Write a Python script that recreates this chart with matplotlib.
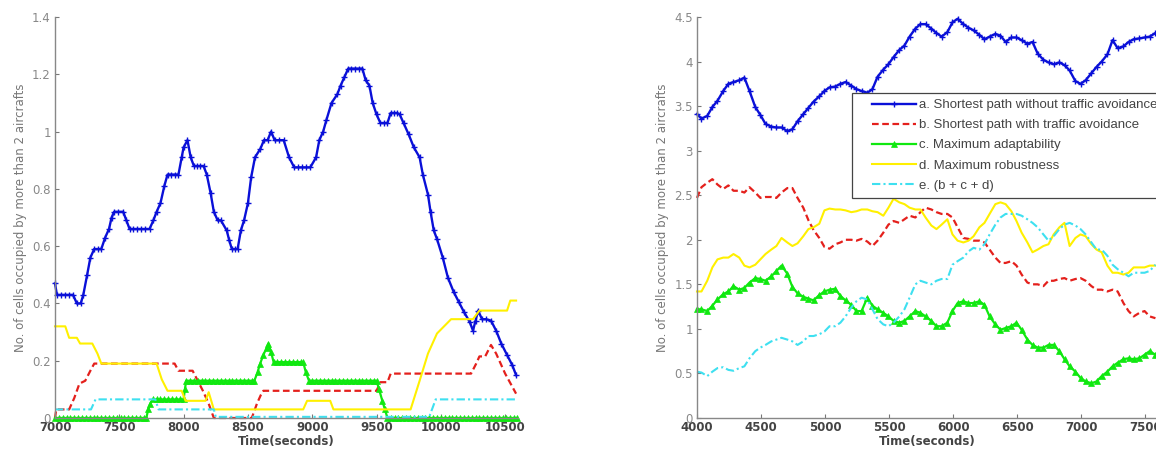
import matplotlib
matplotlib.use("Agg")
import matplotlib.pyplot as plt
from matplotlib.legend_handler import HandlerLine2D

# ---------------- data: left panel (7000 - 10600 s) ----------------
t_a_left = [7000, 7015, 7045, 7075, 7105, 7140, 7170, 7200, 7220, 7250, 7275, 7305, 7335, 7360,
            7390, 7420, 7440, 7460, 7490, 7530, 7555, 7580, 7610, 7640, 7670, 7700, 7735, 7765,
            7790, 7820, 7850, 7875, 7905, 7935, 7960, 7985, 8000, 8030, 8055, 8080, 8105, 8130,
            8155, 8180, 8210, 8235, 8265, 8290, 8335, 8355, 8375, 8400, 8420, 8445, 8470, 8500,
            8525, 8555, 8597, 8625, 8653, 8680, 8708, 8740, 8778, 8820, 8860, 8890, 8920, 8950,
            8985, 9030, 9055, 9085, 9110, 9150, 9195, 9220, 9250, 9280, 9305, 9330, 9360, 9390,
            9415, 9445, 9470, 9500, 9530, 9555, 9585, 9610, 9635, 9660, 9680, 9710, 9750, 9790,
            9835, 9860, 9900, 9920, 9945, 9970, 10015, 10055, 10100, 10140, 10180, 10225, 10250,
            10270, 10290, 10320, 10350, 10390, 10430, 10470, 10515, 10555, 10585]
v_a_left = [0.47, 0.43, 0.43, 0.43, 0.43, 0.43, 0.40, 0.40, 0.43, 0.50, 0.56, 0.59, 0.59, 0.59,
            0.63, 0.66, 0.70, 0.72, 0.72, 0.72, 0.69, 0.66, 0.66, 0.66, 0.66, 0.66, 0.66, 0.69,
            0.72, 0.75, 0.81, 0.85, 0.85, 0.85, 0.85, 0.91, 0.945, 0.97, 0.91, 0.88, 0.88, 0.88,
            0.88, 0.85, 0.785, 0.72, 0.69, 0.69, 0.655, 0.62, 0.59, 0.59, 0.59, 0.655, 0.69, 0.75,
            0.84, 0.91, 0.94, 0.97, 0.97, 1.0, 0.97, 0.97, 0.97, 0.91, 0.875, 0.875, 0.875, 0.875,
            0.875, 0.91, 0.97, 1.0, 1.04, 1.10, 1.13, 1.16, 1.19, 1.22, 1.22, 1.22, 1.22, 1.22,
            1.18, 1.16, 1.10, 1.06, 1.03, 1.03, 1.03, 1.065, 1.065, 1.065, 1.06, 1.03, 0.99, 0.945,
            0.91, 0.85, 0.78, 0.72, 0.655, 0.625, 0.56, 0.49, 0.44, 0.405, 0.37, 0.335, 0.305,
            0.34, 0.375, 0.345, 0.345, 0.34, 0.305, 0.26, 0.22, 0.185, 0.15]

t_b_left = [7000, 7010, 7110, 7150, 7190, 7235, 7275, 7305, 7930, 7960, 8070, 8110, 8150, 8195,
            8235, 8530, 8570, 8600, 8620, 9500, 9530, 9585, 9610, 10235, 10275, 10300, 10345,
            10390, 10430, 10500, 10585]
v_b_left = [0.0, 0.03, 0.03, 0.07, 0.12, 0.13, 0.165, 0.19, 0.19, 0.165, 0.165, 0.13, 0.095, 0.05,
            0.0, 0.0, 0.05, 0.08, 0.095, 0.095, 0.125, 0.125, 0.155, 0.155, 0.19, 0.215, 0.215,
            0.255, 0.225, 0.155, 0.085]

t_c_left = [7000, 7030, 7060, 7090, 7120, 7150, 7180, 7210, 7240, 7270, 7300, 7330, 7360, 7390,
            7420, 7450, 7480, 7510, 7540, 7570, 7600, 7630, 7660, 7690, 7710, 7725, 7740, 7760,
            7790, 7820, 7850, 7880, 7910, 7940, 7970, 8000, 8010, 8020, 8050, 8080, 8110, 8140,
            8170, 8200, 8230, 8260, 8290, 8320, 8350, 8380, 8410, 8440, 8470, 8500, 8530, 8550,
            8575, 8595, 8620, 8645, 8660, 8680, 8700, 8730, 8760, 8790, 8820, 8850, 8880, 8910,
            8930, 8950, 8975, 9000, 9030, 9060, 9090, 9120, 9150, 9180, 9210, 9240, 9270, 9300,
            9330, 9360, 9390, 9420, 9450, 9480, 9500, 9520, 9545, 9565, 9585, 9610, 9640, 9670,
            9700, 9730, 9760, 9790, 9820, 9850, 9880, 9910, 9940, 9970, 10000, 10030, 10060,
            10090, 10120, 10150, 10180, 10210, 10240, 10270, 10300, 10330, 10360, 10390, 10420,
            10450, 10480, 10510, 10540, 10570, 10590]
v_c_left = [0, 0, 0, 0, 0, 0, 0, 0, 0, 0, 0, 0, 0, 0,
            0, 0, 0, 0, 0, 0, 0, 0, 0, 0, 0, 0.03, 0.05, 0.065,
            0.065, 0.065, 0.065, 0.065, 0.065, 0.065, 0.065, 0.065, 0.10, 0.13, 0.13, 0.13, 0.13, 0.13,
            0.13, 0.13, 0.13, 0.13, 0.13, 0.13, 0.13, 0.13, 0.13, 0.13, 0.13, 0.13, 0.13, 0.13,
            0.16, 0.19, 0.22, 0.245, 0.26, 0.23, 0.195, 0.195, 0.195, 0.195, 0.195, 0.195, 0.195, 0.195,
            0.195, 0.16, 0.13, 0.13, 0.13, 0.13, 0.13, 0.13, 0.13, 0.13, 0.13, 0.13, 0.13, 0.13,
            0.13, 0.13, 0.13, 0.13, 0.13, 0.13, 0.13, 0.10, 0.06, 0.03, 0, 0, 0, 0,
            0, 0, 0, 0, 0, 0, 0, 0, 0, 0, 0, 0, 0,
            0, 0, 0, 0, 0, 0, 0, 0, 0, 0, 0, 0,
            0, 0, 0, 0, 0, 0]

t_d_left = [7000, 7080, 7110, 7170, 7195, 7290, 7330, 7360, 7790, 7830, 7875, 7985, 8015, 8170,
            8195, 8235, 8930, 8960, 9140, 9165, 9765, 9835, 9900, 9970, 10080, 10250, 10300,
            10515, 10540, 10585]
v_d_left = [0.32, 0.32, 0.28, 0.28, 0.26, 0.26, 0.225, 0.19, 0.19, 0.135, 0.095, 0.095, 0.06, 0.06,
            0.09, 0.03, 0.03, 0.06, 0.06, 0.03, 0.03, 0.13, 0.225, 0.295, 0.345, 0.345, 0.375,
            0.375, 0.41, 0.41]

t_e_left = [7000, 7280, 7315, 7780, 7805, 8235, 8250, 9910, 9960, 10585]
v_e_left = [0.03, 0.03, 0.065, 0.065, 0.03, 0.03, 0.004, 0.004, 0.065, 0.065]

# ---------------- data: right panel (4000 - 7600 s) ----------------
t_right = [4000, 4035, 4080, 4120, 4160, 4205, 4245, 4285, 4330, 4370, 4410, 4455, 4495, 4535,
           4580, 4620, 4660, 4705, 4745, 4785, 4830, 4870, 4910, 4955, 4995, 5035, 5080, 5120,
           5160, 5205, 5245, 5285, 5330, 5370, 5410, 5455, 5495, 5535, 5580, 5620, 5660, 5705,
           5745, 5785, 5830, 5870, 5910, 5955, 5995, 6035, 6080, 6120, 6160, 6205, 6245, 6285,
           6330, 6370, 6410, 6455, 6495, 6535, 6580, 6620, 6660, 6705, 6745, 6785, 6830, 6870,
           6910, 6955, 6995, 7035, 7080, 7120, 7160, 7205, 7245, 7285, 7330, 7370, 7410, 7455,
           7495, 7535, 7580]
v_a_right = [3.41, 3.36, 3.39, 3.49, 3.56, 3.67, 3.75, 3.77, 3.79, 3.82, 3.67, 3.49, 3.40, 3.30,
             3.27, 3.26, 3.26, 3.22, 3.24, 3.33, 3.41, 3.48, 3.55, 3.61, 3.67, 3.71, 3.72, 3.75,
             3.77, 3.73, 3.69, 3.67, 3.65, 3.69, 3.83, 3.91, 3.97, 4.05, 4.13, 4.18, 4.28, 4.37,
             4.42, 4.42, 4.37, 4.32, 4.28, 4.33, 4.44, 4.48, 4.42, 4.38, 4.35, 4.30, 4.25, 4.28,
             4.31, 4.29, 4.22, 4.27, 4.27, 4.24, 4.20, 4.22, 4.09, 4.02, 3.99, 3.97, 3.99, 3.96,
             3.90, 3.78, 3.75, 3.79, 3.87, 3.94, 4.00, 4.08, 4.24, 4.15, 4.17, 4.22, 4.25, 4.26,
             4.27, 4.28, 4.32]
v_b_right = [2.47, 2.59, 2.64, 2.68, 2.62, 2.57, 2.61, 2.55, 2.55, 2.53, 2.59, 2.53, 2.47, 2.48,
             2.48, 2.47, 2.53, 2.58, 2.58, 2.47, 2.36, 2.22, 2.11, 2.02, 1.92, 1.90, 1.95, 1.97,
             2.00, 2.00, 1.99, 2.01, 1.98, 1.93, 1.99, 2.08, 2.17, 2.21, 2.19, 2.23, 2.27, 2.25,
             2.31, 2.36, 2.34, 2.31, 2.29, 2.29, 2.25, 2.14, 2.02, 2.01, 1.99, 1.99, 1.97, 1.89,
             1.80, 1.74, 1.74, 1.76, 1.71, 1.61, 1.52, 1.50, 1.50, 1.48, 1.54, 1.54, 1.56, 1.57,
             1.54, 1.56, 1.57, 1.54, 1.48, 1.44, 1.44, 1.42, 1.44, 1.42, 1.29, 1.20, 1.14, 1.18,
             1.20, 1.14, 1.12]
v_c_right = [1.22, 1.22, 1.20, 1.26, 1.33, 1.39, 1.42, 1.48, 1.44, 1.46, 1.52, 1.57, 1.56, 1.54,
             1.59, 1.65, 1.71, 1.62, 1.47, 1.40, 1.36, 1.34, 1.32, 1.38, 1.42, 1.44, 1.45, 1.37,
             1.32, 1.27, 1.20, 1.20, 1.35, 1.26, 1.22, 1.18, 1.14, 1.09, 1.07, 1.09, 1.14, 1.20,
             1.18, 1.14, 1.09, 1.03, 1.03, 1.07, 1.20, 1.29, 1.31, 1.29, 1.29, 1.31, 1.27, 1.14,
             1.05, 0.99, 1.01, 1.03, 1.07, 0.99, 0.88, 0.82, 0.79, 0.79, 0.82, 0.82, 0.75, 0.66,
             0.58, 0.52, 0.45, 0.41, 0.39, 0.41, 0.47, 0.52, 0.58, 0.62, 0.66, 0.67, 0.66, 0.67,
             0.71, 0.75, 0.71]
v_d_right = [1.42, 1.42, 1.54, 1.69, 1.78, 1.80, 1.80, 1.84, 1.80, 1.71, 1.69, 1.72, 1.78, 1.84,
             1.89, 1.93, 2.02, 1.97, 1.93, 1.96, 2.04, 2.12, 2.14, 2.18, 2.33, 2.35, 2.34, 2.34,
             2.33, 2.31, 2.32, 2.34, 2.34, 2.32, 2.31, 2.27, 2.36, 2.46, 2.42, 2.40, 2.36, 2.34,
             2.34, 2.25, 2.16, 2.12, 2.17, 2.23, 2.06, 1.99, 1.97, 1.99, 2.04, 2.14, 2.19, 2.29,
             2.40, 2.42, 2.40, 2.32, 2.21, 2.08, 1.97, 1.86, 1.89, 1.93, 1.95, 2.06, 2.14, 2.19,
             1.93, 2.02, 2.06, 2.04, 1.95, 1.89, 1.86, 1.71, 1.63, 1.63, 1.61, 1.63, 1.69, 1.69,
             1.69, 1.71, 1.71]
v_e_right = [0.52, 0.51, 0.47, 0.52, 0.56, 0.57, 0.54, 0.53, 0.56, 0.58, 0.67, 0.75, 0.79, 0.82,
             0.86, 0.88, 0.90, 0.88, 0.86, 0.82, 0.86, 0.92, 0.92, 0.94, 0.97, 1.03, 1.03, 1.07,
             1.14, 1.24, 1.31, 1.35, 1.33, 1.22, 1.11, 1.05, 1.03, 1.07, 1.14, 1.22, 1.35, 1.50,
             1.54, 1.52, 1.50, 1.54, 1.56, 1.56, 1.72, 1.76, 1.80, 1.87, 1.91, 1.89, 1.95, 2.06,
             2.17, 2.25, 2.29, 2.29, 2.29, 2.27, 2.23, 2.19, 2.14, 2.06, 1.99, 2.04, 2.12, 2.17,
             2.19, 2.16, 2.12, 2.06, 1.97, 1.89, 1.89, 1.82, 1.72, 1.67, 1.63, 1.59, 1.63, 1.63,
             1.63, 1.65, 1.72]

labels = ['a. Shortest path without traffic avoidance',
          'b. Shortest path with traffic avoidance',
          'c. Maximum adaptability',
          'd. Maximum robustness',
          'e. (b + c + d)']

left_xticks = [7000, 7500, 8000, 8500, 9000, 9500, 10000, 10500]
left_yticks = [0, 0.2, 0.4, 0.6, 0.8, 1.0, 1.2, 1.4]
left_yticklabels = ['0', '0.2', '0.4', '0.6', '0.8', '1', '1.2', '1.4']
right_xticks = [4000, 4500, 5000, 5500, 6000, 6500, 7000, 7500]
right_yticks = [0, 0.5, 1, 1.5, 2, 2.5, 3, 3.5, 4, 4.5]
right_yticklabels = ['0', '0.5', '1', '1.5', '2', '2.5', '3', '3.5', '4', '4.5']

# ---------------- styles ----------------
C_A, C_B, C_C, C_D, C_E = '#0a10d8', '#e4201c', '#10e810', '#fff000', '#3ee0f0'
sty_a = dict(color=C_A, lw=1.7, marker='+', ms=5, mew=1.0)
sty_b = dict(color=C_B, lw=1.6, ls=(0, (3, 1.6)))
sty_c = dict(color=C_C, lw=1.6, marker='^', ms=4.5, mew=0.5, mfc=C_C, mec=C_C)
sty_d = dict(color=C_D, lw=1.5)
sty_e = dict(color=C_E, lw=1.5, ls=(0, (4, 1.5, 1, 1.5)))

fig = plt.figure(figsize=(11.56, 4.53), dpi=100)
fig.patch.set_facecolor('white')

ax1 = fig.add_axes([55 / 1156, 35 / 453, 463 / 1156, 401 / 453])
ax2 = fig.add_axes([697 / 1156, 35 / 453, 461 / 1156, 401 / 453])


def style_axis(ax, xticks, yticks, yticklabels, xlim, ylim):
    ax.set_xlim(*xlim)
    ax.set_ylim(*ylim)
    ax.set_xticks(xticks)
    ax.set_xticklabels([str(x) for x in xticks], fontsize=8.5, fontweight='bold', color='#444')
    ax.set_yticks(yticks)
    ax.set_yticklabels(yticklabels, fontsize=8.5, color='#888')
    ax.tick_params(direction='in', length=3, width=0.8, color='#777', pad=3)
    ax.tick_params(axis='x', pad=2)
    for s in ['top', 'right']:
        ax.spines[s].set_visible(False)
    for s in ['left', 'bottom']:
        ax.spines[s].set_color('#888')
        ax.spines[s].set_linewidth(1.0)
    ax.set_xlabel('Time(seconds)', fontsize=8.5, fontweight='bold', color='#444', labelpad=1)
    ax.set_ylabel('No. of cells occupied by more than 2 aircrafts', fontsize=8.5,
                  color='#777', labelpad=4)


# left panel
ax1.plot(t_a_left, v_a_left, clip_on=False, **sty_a)
ax1.plot(t_b_left, v_b_left, clip_on=False, **sty_b)
ax1.plot(t_c_left, v_c_left, clip_on=False, **sty_c)
ax1.plot(t_d_left, v_d_left, clip_on=False, **sty_d)
ax1.plot(t_e_left, v_e_left, clip_on=False, **sty_e)
style_axis(ax1, left_xticks, left_yticks, left_yticklabels, (7000, 10600), (0, 1.4))

# right panel
la, = ax2.plot(t_right, v_a_right, clip_on=False, **sty_a)
lb, = ax2.plot(t_right, v_b_right, clip_on=False, **sty_b)
lc, = ax2.plot(t_right, v_c_right, clip_on=False, **sty_c)
ld, = ax2.plot(t_right, v_d_right, clip_on=False, **sty_d)
le, = ax2.plot(t_right, v_e_right, clip_on=False, **sty_e)
style_axis(ax2, right_xticks, right_yticks, right_yticklabels, (4000, 7600), (0, 4.5))

# legend: handles start a little inside the frame, as in the original
hmap = {h: HandlerLine2D(numpoints=1, xpad=1.1) for h in (la, lb, lc, ld, le)}
leg = ax2.legend([la, lb, lc, ld, le], labels, loc='upper left', handler_map=hmap,
                 bbox_to_anchor=(852 / 1156, 1 - 93 / 453), bbox_transform=fig.transFigure,
                 borderaxespad=0, fancybox=False, framealpha=1, edgecolor='#444',
                 prop={'family': 'Liberation Sans', 'size': 9.5}, labelcolor='#444',
                 handlelength=4.4, handletextpad=0.25, labelspacing=0.6,
                 borderpad=0.45)
leg.get_frame().set_linewidth(0.9)
leg.set_zorder(10)

fig.savefig('out.png', dpi=100)
